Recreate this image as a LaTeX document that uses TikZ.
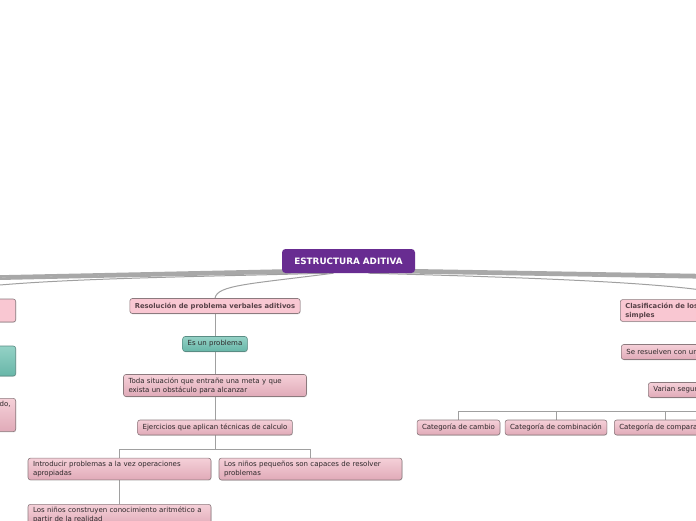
\documentclass[tikz,border=0pt]{standalone}
\usepackage{fontspec}
\setmainfont{DejaVu Sans}
\usetikzlibrary{positioning,calc,shadows,backgrounds}

\definecolor{rootpurple}{RGB}{104,44,145}
\definecolor{topicpink}{RGB}{249,199,210}
\definecolor{topictext}{RGB}{88,66,72}
\definecolor{leaftop}{RGB}{245,208,216}
\definecolor{leafbot}{RGB}{224,170,184}
\definecolor{tealtop}{RGB}{148,210,198}
\definecolor{tealbot}{RGB}{104,182,168}
\definecolor{tealline}{RGB}{90,140,132}
\definecolor{boxline}{RGB}{140,122,126}
\definecolor{textdark}{RGB}{45,40,42}
\definecolor{linkgray}{RGB}{160,160,160}
\definecolor{bandgray}{RGB}{168,168,168}

\tikzset{
  mapnode/.style={rounded corners=2.5pt, draw=boxline, line width=0.6pt,
    inner xsep=5pt, inner ysep=3pt, minimum height=15pt, text=textdark,
    font=\fontsize{7}{9}\selectfont,
    drop shadow={shadow xshift=0.5pt, shadow yshift=-0.8pt, opacity=0.25}},
  rootbox/.style={rounded corners=3.5pt, fill=rootpurple, text=white,
    font=\bfseries\fontsize{8.8}{10}\selectfont,
    minimum width=133pt, minimum height=24pt},
  topic/.style={mapnode, fill=topicpink, text=topictext,
    font=\bfseries\fontsize{6.8}{9}\selectfont},
  leaf/.style={mapnode, top color=leaftop, bottom color=leafbot},
  tealleaf/.style={mapnode, draw=tealline, top color=tealtop, bottom color=tealbot},
  wide/.style={text width=173pt, align=left},
  link/.style={draw=linkgray, line width=0.8pt},
  band/.style={draw=bandgray, line width=2.6pt},
}

\begin{document}
\begin{tikzpicture}[x=1pt, y=-1pt]
  \useasboundingbox (0,0) rectangle (696,520);
  % central topic
  \node[rootbox] (root) at (348.5,261) {ESTRUCTURA ADITIVA};
  % left branch
  \node[topic, anchor=east, minimum width=200pt, minimum height=23pt] (left1) at (16,310.5) {};
  \node[tealleaf, anchor=east, minimum width=200pt, minimum height=30pt] (left2) at (16,361) {};
  \node[leaf, anchor=east, text width=190pt, align=right] (left3) at (16,415) {do,\\[13pt]\mbox{}};
  % middle branch
  \node[topic] (resol) at (215,306) {Resolución de problema verbales aditivos};
  \node[tealleaf] (esprob) at (215,344) {Es un problema};
  \node[leaf, wide] (toda) at (215,385.5) {Toda situación que entrañe una meta y que\\exista un obstáculo para alcanzar};
  \node[leaf] (ejer) at (215,427.5) {Ejercicios que aplican técnicas de calculo};
  \node[leaf, wide] (introd) at (119.5,469) {Introducir problemas a la vez operaciones\\apropiadas};
  \node[leaf, wide] (ninos) at (310.5,469) {Los niños pequeños son capaces de resolver\\problemas};
  \node[leaf, wide, anchor=north] (constr) at (119.5,504) {Los niños construyen conocimiento aritmético a\\partir de la realidad};
  % right branch
  \node[topic, anchor=west, text width=230pt, align=left] (clasif) at (620,310.5) {Clasificación de los\\simples};
  \node[leaf, anchor=west, text width=228pt, align=left] (seres) at (621,352) {Se resuelven con un};
  \node[leaf, anchor=west, text width=174pt, align=left] (varian) at (648,390) {Varian segun};
  \node[leaf] (cambio) at (458.5,427.5) {Categoría de cambio};
  \node[leaf] (combin) at (556,427.5) {Categoría de combinación};
  \node[leaf, anchor=west] (compar) at (614,427.5) {Categoría de comparación};

  \begin{scope}[on background layer]
    \coordinate (farleft) at (-20,278);
    \coordinate (farright) at (716,276.5);
    % thick branches leaving the frame
    \draw[band] ($(root.south)+(0,-4)$) -- ($(farleft)+(0,-1.1)$);
    \draw[band] ($(root.south)+(0,-2)$) -- ($(farleft)+(0,1.1)$);
    \draw[band] ($(root.south)+(0,-4)$) -- ($(farright)+(0,-1.1)$);
    \draw[band] ($(root.south)+(0,-2)$) -- ($(farright)+(0,1.1)$);
    % thin branches
    \draw[link, line width=1pt] ($(root.south)+(-20,0)$) .. controls (150,278) and (-30,279) .. (left1.north);
    \draw[link, line width=1pt] ($(root.south)+(-15,0)$) .. controls (250,284) and (217,285) .. (resol.north);
    \draw[link, line width=1pt] ($(root.south)+(20,0)$) .. controls (550,278) and (715,284) .. (clasif.north);
    % tree links
    \draw[link] (resol) -- (esprob);
    \draw[link] (esprob) -- (toda);
    \draw[link] (toda) -- (ejer);
    \draw[link] (ejer.south) -- ++(0,14) -| (introd.north);
    \draw[link] (ejer.south) -- ++(0,14) -| (ninos.north);
    \draw[link] (introd) -- (constr);
    \draw[link] (varian.south) -- ++(0,14) -| (cambio.north);
    \draw[link] (varian.south) -- ++(0,14) -| (combin.north);
    \draw[link] (varian.south) -- ++(0,14) -| (compar.north);
  \end{scope}
\end{tikzpicture}
\end{document}
